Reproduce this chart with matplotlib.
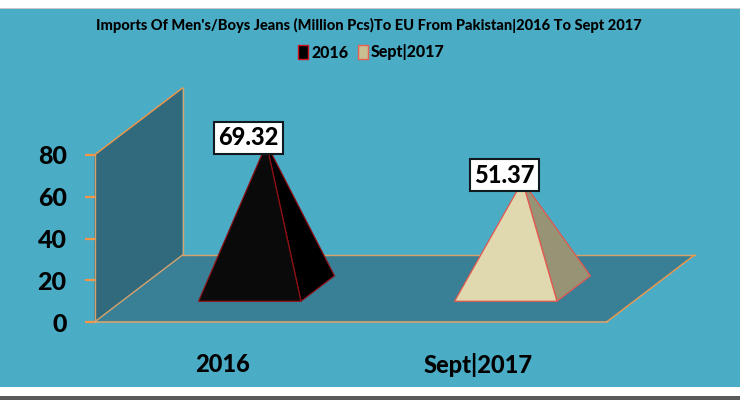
import matplotlib
matplotlib.use("Agg")
import matplotlib.pyplot as plt
from matplotlib.patches import Polygon, Patch, Rectangle

categories = ["2016", "Sept|2017"]
values = [69.32, 51.37]
value_labels = ["69.32", "51.37"]
y_ticks = [0, 20, 40, 60, 80]
title = "Imports Of Men's/Boys Jeans (Million Pcs)To EU From Pakistan|2016 To Sept 2017"

BG = "#4BACC6"
WALL = "#316A7C"
FLOOR = "#398096"
EDGE = "#D6A26C"
TICK = "#F79646"
FRONT = ["#0A0A0A", "#E0D8AE"]
SIDE = ["#000000", "#979375"]
LINE = ["#8E0F14", "#E2574F"]
SWATCH = ["#000000", "#C9BE92"]
SWATCH_EDGE = ["#D0131B", "#E8604F"]

plt.rcParams["font.family"] = ["Lato", "DejaVu Sans"]
plt.rcParams["font.weight"] = "bold"

PX_X = 256.0          # pixels per category
PX_Y = 2.0875         # pixels per value unit
X0, Y0 = 222.5, 322.0 # pixel of first category centre / value 0
DX = 88.0 / PX_X      # depth shift in category units
DY = 67.0 / PX_Y      # depth shift in value units


def p(cat, val, depth=0.0):
    return (cat + DX * depth, val + DY * depth)


fig = plt.figure(figsize=(7.4, 4.0), dpi=100, facecolor=BG)
ax = fig.add_axes([0, 0, 1, 1], facecolor=BG)
ax.set_xlim(-X0 / PX_X, (740 - X0) / PX_X)
ax.set_ylim(-(400 - Y0) / PX_Y, Y0 / PX_Y)

# page bands around the chart
fig.patches.extend([
    Rectangle((0, 391.5 / 400), 1, 8.5 / 400, transform=fig.transFigure, fc="white", ec="none"),
    Rectangle((0, 391 / 400), 1, 1.2 / 400, transform=fig.transFigure, fc="#C8C8C8", ec="none"),
    Rectangle((0, 4 / 400), 1, 9 / 400, transform=fig.transFigure, fc="white", ec="none"),
    Rectangle((0, 0), 1, 4 / 400, transform=fig.transFigure, fc="#5A5A5A", ec="none"),
])

left, right = -0.5, 1.5
top = max(y_ticks)

# back wall and floor
ax.add_patch(Polygon([p(left, 0), p(left, top), p(left, top, 1), p(left, 0, 1)],
                     fc=WALL, ec="none", zorder=1))
ax.add_patch(Polygon([p(left, 0), p(left, 0, 1), p(right, 0, 1), p(right, 0)],
                     fc=FLOOR, ec="none", zorder=1))
for a, b, c in [((left, top, 0), (left, top, 1), TICK), ((left, top, 1), (left, 0, 1), EDGE),
                ((left, 0, 1), (left, 0, 0), EDGE), ((left, 0, 1), (right, 0, 1), EDGE),
                ((right, 0, 1), (right, 0, 0), TICK)]:
    pa, pb = p(*a), p(*b)
    ax.plot([pa[0], pb[0]], [pa[1], pb[1]], color=c, lw=1.0, zorder=2)

# pyramids
HALF = 0.2
D1, D2, DM = 0.31, 0.69, 0.5
for i, v in enumerate(values):
    fl = p(i - HALF, 0, D1)
    fr = p(i + HALF, 0, D1)
    br = p(i + HALF, 0, D2)
    apex = p(i, v, DM)
    ax.add_patch(Polygon([fr, br, apex], fc=SIDE[i], ec=LINE[i], lw=0.9, zorder=3, joinstyle="round"))
    ax.add_patch(Polygon([fl, fr, apex], fc=FRONT[i], ec=LINE[i], lw=0.9, zorder=4, joinstyle="round"))
    ax.annotate(value_labels[i], xy=apex, xytext=(-18, 6), textcoords="offset pixels",
                ha="center", va="center", fontsize=17, fontweight="black", color="black", zorder=6,
                bbox=dict(boxstyle="square,pad=0.19", fc="white", ec="#101820", lw=1.5))

# axes
for s in ("top", "right"):
    ax.spines[s].set_visible(False)
ax.spines["left"].set_position(("data", left))
ax.spines["left"].set_bounds(0, top)
ax.spines["left"].set_color(EDGE)
ax.spines["left"].set_linewidth(1.0)
ax.spines["bottom"].set_position(("data", 0))
ax.spines["bottom"].set_bounds(left, right)
ax.spines["bottom"].set_color(EDGE)
ax.spines["bottom"].set_linewidth(1.2)
ax.spines["left"].set_zorder(2)
ax.spines["bottom"].set_zorder(2)
ax.set_yticks(y_ticks)
ax.tick_params(axis="y", left=True, direction="out", length=7, width=1.6, color=TICK,
               labelsize=18, labelcolor="black", pad=13)
ax.set_xticks(range(len(categories)), categories)
ax.tick_params(axis="x", bottom=False, labelsize=17, labelcolor="black", pad=19)
for t in ax.get_xticklabels() + ax.get_yticklabels():
    t.set_fontweight("black")

# title and legend
fig.text(368.5 / 740, 1 - 25 / 400, title, ha="center", va="center", fontsize=10.5,
         fontweight="black", color="black")
handles = [Patch(fc=SWATCH[i], ec=SWATCH_EDGE[i], lw=1.0, label=categories[i]) for i in range(2)]
leg = fig.legend(handles=handles, loc="center", bbox_to_anchor=(371.5 / 740, 1 - 52.5 / 400), ncol=2,
                 frameon=False, fontsize=11.5, handlelength=0.62, handleheight=0.9,
                 handletextpad=0.2, columnspacing=0.6, borderpad=0)
for t in leg.get_texts():
    t.set_fontweight("black")

fig.savefig("out.png", dpi=100, facecolor=BG)
